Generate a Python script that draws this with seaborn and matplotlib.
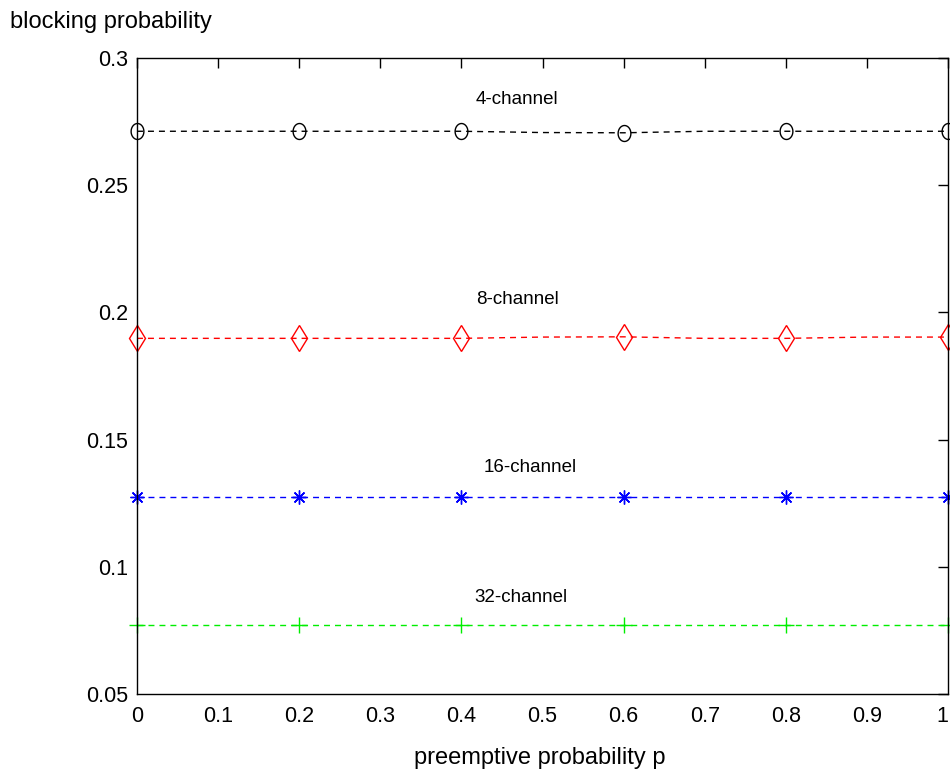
import matplotlib
matplotlib.use("Agg")
import matplotlib.pyplot as plt
import seaborn as sns
import pandas as pd
import numpy as np
from matplotlib.path import Path

p_values = [0.0, 0.1, 0.2, 0.3, 0.4, 0.5, 0.6, 0.7, 0.8, 0.9, 1.0]
ch4 = [0.2712, 0.2712, 0.2712, 0.2712, 0.2712, 0.2707, 0.2706, 0.2712, 0.2712, 0.2712, 0.2712]
ch8 = [0.1898, 0.1898, 0.1898, 0.1898, 0.1898, 0.1903, 0.1904, 0.1898, 0.1898, 0.1903, 0.1903]
ch16 = [0.1273] * 11
ch32 = [0.0772] * 11
series_names = ["4-channel", "8-channel", "16-channel", "32-channel"]
label_pos = [(0.418, 0.2835), (0.418, 0.2050), (0.427, 0.1392), (0.416, 0.0880)]
x_ticks = [0, 0.1, 0.2, 0.3, 0.4, 0.5, 0.6, 0.7, 0.8, 0.9, 1]
x_ticklabels = ["0", "0.1", "0.2", "0.3", "0.4", "0.5", "0.6", "0.7", "0.8", "0.9", "1"]
y_ticks = [0.05, 0.1, 0.15, 0.2, 0.25, 0.3]
y_ticklabels = ["0.05", "0.1", "0.15", "0.2", "0.25", "0.3"]

sns.set_style("white")
plt.rcParams['font.family'] = ['Liberation Sans', 'DejaVu Sans']
plt.rcParams['text.color'] = 'black'

# tall ellipse marker (MATLAB-style rendering of 'o')
t = np.linspace(0, 2 * np.pi, 41)
ellipse = Path(np.column_stack([0.8 * np.cos(t), np.sin(t)]), closed=True)

fig = plt.figure(figsize=(9.5, 7.73), dpi=100)
ax = fig.add_axes([137/950, 1 - 694/773, (948 - 137)/950, (694 - 58)/773])

styles = [
    dict(color="black", marker=ellipse, markersize=11.5, mfc="none", mec="black"),
    dict(color="#ff0000", marker="d", markersize=13, mfc="none", mec="#ff0000"),
    dict(color="#0000ff", marker=(8, 2, 0), markersize=10, mec="#0000ff"),
    dict(color="#00ee00", marker="+", markersize=11.5, mec="#00ee00"),
]
for name, vals, st in zip(series_names, [ch4, ch8, ch16, ch32], styles):
    df = pd.DataFrame({"p": p_values, "b": vals})
    sns.lineplot(data=df, x="p", y="b", ax=ax, linestyle=(0, (4.3, 3.6)), linewidth=1.0,
                 markevery=2, markeredgewidth=1.0, clip_on=False, **st)

for name, (tx, ty) in zip(series_names, label_pos):
    ax.text(tx, ty, name, ha="left", va="center", fontsize=13.5, color="black")

ax.set_xlim(0, 1)
ax.set_ylim(0.05, 0.3)
ax.set_xticks(x_ticks)
ax.set_xticklabels(x_ticklabels)
ax.set_yticks(y_ticks)
ax.set_yticklabels(y_ticklabels)
ax.tick_params(direction="in", length=7, width=1, top=True, right=True, labelsize=15.5, colors="black")
ax.tick_params(axis="x", pad=8.5)
ax.tick_params(axis="y", pad=6.5)
ax.get_xticklabels()[-1].set_ha("right")
for s in ax.spines.values():
    s.set_visible(True)
    s.set_color("black")
    s.set_linewidth(1.0)
ax.set_xlabel("")
ax.set_ylabel("")
fig.text(540/950, 1 - 758/773, "preemptive probability p", ha="center", va="center", fontsize=17, color="black")
fig.text(10/950, 1 - 22/773, "blocking probability", ha="left", va="center", fontsize=17, color="black")

fig.savefig("out.png", dpi=100)
